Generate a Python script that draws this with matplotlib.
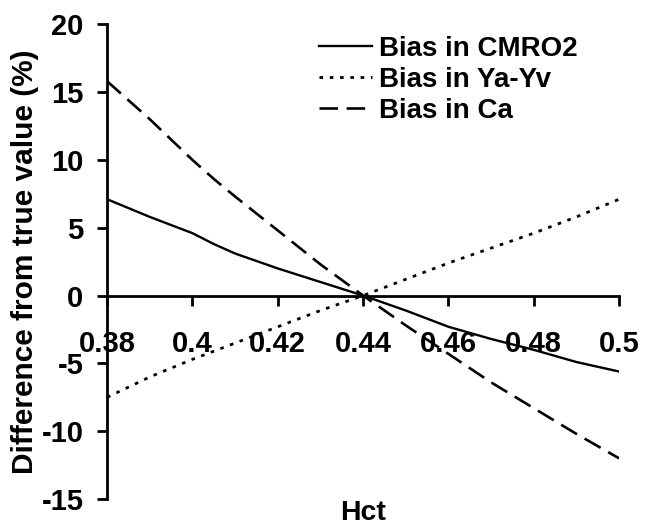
#!/usr/bin/env python3

from matplotlib import pyplot as plt

# Hct values and bias (%)
hct = [0.38, 0.39, 0.40, 0.405, 0.41, 0.42, 0.43, 0.44, 0.45, 0.46, 0.47, 0.48, 0.49, 0.50]
bias_cmro2 = [7.1, 5.8, 4.6, 3.8, 3.1, 2.0, 1.0, 0.0, -1.1, -2.3, -3.2, -4.0, -4.9, -5.6]
bias_yayv = [-7.5, -6.0, -4.7, -4.1, -3.5, -2.3, -1.1, 0.0, 1.2, 2.4, 3.5, 4.6, 5.8, 7.1]
bias_ca = [15.8, 13.0, 10.0, 8.6, 7.3, 4.8, 2.3, 0.0, -2.2, -4.3, -6.4, -8.3, -10.2, -12.0]

xticks = [0.38, 0.40, 0.42, 0.44, 0.46, 0.48, 0.50]
xtick_labels = ["0.38", "0.4", "0.42", "0.44", "0.46", "0.48", "0.5"]
yticks = [-15, -10, -5, 0, 5, 10, 15, 20]


def main():
    plt.rcParams['font.family'] = ['Liberation Sans', 'DejaVu Sans']
    plt.rcParams['font.weight'] = 'bold'
    plt.rcParams['axes.unicode_minus'] = False

    fig = plt.figure(figsize=(6.49, 5.27), dpi=100)
    ax = fig.add_axes([0.165, 0.053, 0.789, 0.901])

    ax.plot(hct, bias_cmro2, color='black', lw=1.7, label='Bias in CMRO2')
    ax.plot(hct, bias_yayv, color='black', lw=2.0, linestyle=(0, (1.3, 2.4)),
            label='Bias in Ya-Yv')
    ax.plot(hct, bias_ca, color='black', lw=1.9, linestyle=(0, (7, 3.3)),
            label='Bias in Ca')

    ax.set_xlim(0.38, 0.50)
    ax.set_ylim(-15, 20)

    # axes look: x axis crossing at zero
    ax.spines['top'].set_visible(False)
    ax.spines['right'].set_visible(False)
    ax.spines['bottom'].set_position(('data', 0))
    ax.spines['bottom'].set_linewidth(2.0)
    ax.spines['left'].set_linewidth(2.0)

    ax.set_xticks(xticks)
    ax.set_xticklabels(xtick_labels)
    ax.set_yticks(yticks)
    ax.tick_params(axis='x', direction='out', length=7, width=2, pad=18,
                   labelsize=21)
    ax.tick_params(axis='y', direction='out', length=7, width=2, pad=10,
                   labelsize=21)

    ax.set_xlabel("Hct", fontsize=20.5, fontweight='bold')
    ax.set_ylabel("Difference from true value (%)", fontsize=21.5,
                  fontweight='bold')
    ax.xaxis.set_label_coords(0.5, -0.002)
    ax.yaxis.set_label_coords(-0.132, 0.5)

    ax.legend(loc='upper left', bbox_to_anchor=(0.414, 0.975), frameon=False,
              handlelength=1.9, handletextpad=0.25, labelspacing=0.18,
              borderpad=0, borderaxespad=0,
              prop={'weight': 'bold', 'size': 20})

    fig.savefig('out.png', dpi=100)


if __name__ == "__main__":
    main()
